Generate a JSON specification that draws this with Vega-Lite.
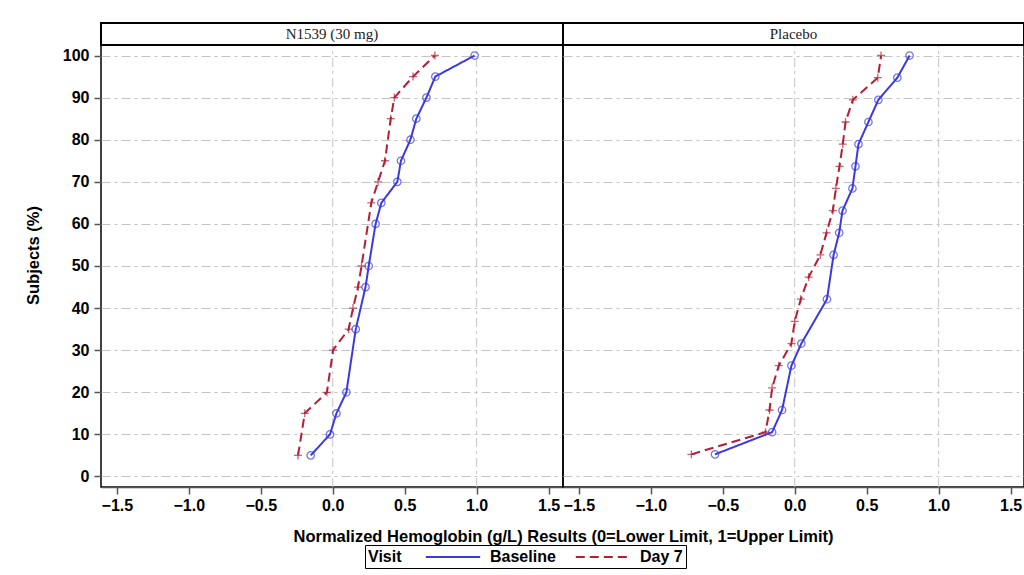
{
  "$schema": "https://vega.github.io/schema/vega-lite/v6.json",
  "padding": {"left": 24, "top": 21, "right": 0, "bottom": 0},
  "autosize": {"type": "pad"},
  "background": "white",
  "datasets": {
    "main": [
      {"panel": "N1539", "visit": "Baseline", "pct": 5, "x": -0.153},
      {"panel": "N1539", "visit": "Baseline", "pct": 10, "x": -0.019},
      {"panel": "N1539", "visit": "Baseline", "pct": 15, "x": 0.026},
      {"panel": "N1539", "visit": "Baseline", "pct": 20, "x": 0.095},
      {"panel": "N1539", "visit": "Baseline", "pct": 35, "x": 0.160},
      {"panel": "N1539", "visit": "Baseline", "pct": 45, "x": 0.228},
      {"panel": "N1539", "visit": "Baseline", "pct": 50, "x": 0.250},
      {"panel": "N1539", "visit": "Baseline", "pct": 60, "x": 0.298},
      {"panel": "N1539", "visit": "Baseline", "pct": 65, "x": 0.338},
      {"panel": "N1539", "visit": "Baseline", "pct": 70, "x": 0.449},
      {"panel": "N1539", "visit": "Baseline", "pct": 75, "x": 0.474},
      {"panel": "N1539", "visit": "Baseline", "pct": 80, "x": 0.540},
      {"panel": "N1539", "visit": "Baseline", "pct": 85, "x": 0.581},
      {"panel": "N1539", "visit": "Baseline", "pct": 90, "x": 0.651},
      {"panel": "N1539", "visit": "Baseline", "pct": 95, "x": 0.713},
      {"panel": "N1539", "visit": "Baseline", "pct": 100, "x": 0.986},
      {"panel": "N1539", "visit": "Day 7", "pct": 5, "x": -0.241},
      {"panel": "N1539", "visit": "Day 7", "pct": 15, "x": -0.194},
      {"panel": "N1539", "visit": "Day 7", "pct": 20, "x": -0.040},
      {"panel": "N1539", "visit": "Day 7", "pct": 30, "x": 0.002},
      {"panel": "N1539", "visit": "Day 7", "pct": 35, "x": 0.111},
      {"panel": "N1539", "visit": "Day 7", "pct": 40, "x": 0.141},
      {"panel": "N1539", "visit": "Day 7", "pct": 45, "x": 0.176},
      {"panel": "N1539", "visit": "Day 7", "pct": 50, "x": 0.200},
      {"panel": "N1539", "visit": "Day 7", "pct": 65, "x": 0.268},
      {"panel": "N1539", "visit": "Day 7", "pct": 70, "x": 0.315},
      {"panel": "N1539", "visit": "Day 7", "pct": 75, "x": 0.363},
      {"panel": "N1539", "visit": "Day 7", "pct": 85, "x": 0.403},
      {"panel": "N1539", "visit": "Day 7", "pct": 90, "x": 0.428},
      {"panel": "N1539", "visit": "Day 7", "pct": 95, "x": 0.558},
      {"panel": "N1539", "visit": "Day 7", "pct": 100, "x": 0.710},
      {"panel": "Placebo", "visit": "Baseline", "pct": 5.26, "x": -0.554},
      {"panel": "Placebo", "visit": "Baseline", "pct": 10.53, "x": -0.157},
      {"panel": "Placebo", "visit": "Baseline", "pct": 15.79, "x": -0.088},
      {"panel": "Placebo", "visit": "Baseline", "pct": 26.32, "x": -0.023},
      {"panel": "Placebo", "visit": "Baseline", "pct": 31.58, "x": 0.046},
      {"panel": "Placebo", "visit": "Baseline", "pct": 42.11, "x": 0.224},
      {"panel": "Placebo", "visit": "Baseline", "pct": 52.63, "x": 0.270},
      {"panel": "Placebo", "visit": "Baseline", "pct": 57.89, "x": 0.309},
      {"panel": "Placebo", "visit": "Baseline", "pct": 63.16, "x": 0.332},
      {"panel": "Placebo", "visit": "Baseline", "pct": 68.42, "x": 0.401},
      {"panel": "Placebo", "visit": "Baseline", "pct": 73.68, "x": 0.422},
      {"panel": "Placebo", "visit": "Baseline", "pct": 78.95, "x": 0.443},
      {"panel": "Placebo", "visit": "Baseline", "pct": 84.21, "x": 0.512},
      {"panel": "Placebo", "visit": "Baseline", "pct": 89.47, "x": 0.581},
      {"panel": "Placebo", "visit": "Baseline", "pct": 94.74, "x": 0.713},
      {"panel": "Placebo", "visit": "Baseline", "pct": 100, "x": 0.798},
      {"panel": "Placebo", "visit": "Day 7", "pct": 5.26, "x": -0.718},
      {"panel": "Placebo", "visit": "Day 7", "pct": 10.53, "x": -0.203},
      {"panel": "Placebo", "visit": "Day 7", "pct": 15.79, "x": -0.175},
      {"panel": "Placebo", "visit": "Day 7", "pct": 21.05, "x": -0.157},
      {"panel": "Placebo", "visit": "Day 7", "pct": 26.32, "x": -0.111},
      {"panel": "Placebo", "visit": "Day 7", "pct": 31.58, "x": -0.023},
      {"panel": "Placebo", "visit": "Day 7", "pct": 36.84, "x": 0.0},
      {"panel": "Placebo", "visit": "Day 7", "pct": 42.11, "x": 0.042},
      {"panel": "Placebo", "visit": "Day 7", "pct": 47.37, "x": 0.097},
      {"panel": "Placebo", "visit": "Day 7", "pct": 52.63, "x": 0.178},
      {"panel": "Placebo", "visit": "Day 7", "pct": 57.89, "x": 0.221},
      {"panel": "Placebo", "visit": "Day 7", "pct": 63.16, "x": 0.265},
      {"panel": "Placebo", "visit": "Day 7", "pct": 68.42, "x": 0.286},
      {"panel": "Placebo", "visit": "Day 7", "pct": 73.68, "x": 0.311},
      {"panel": "Placebo", "visit": "Day 7", "pct": 78.95, "x": 0.334},
      {"panel": "Placebo", "visit": "Day 7", "pct": 84.21, "x": 0.353},
      {"panel": "Placebo", "visit": "Day 7", "pct": 89.47, "x": 0.404},
      {"panel": "Placebo", "visit": "Day 7", "pct": 94.74, "x": 0.577},
      {"panel": "Placebo", "visit": "Day 7", "pct": 100, "x": 0.600}
    ],
    "refs": [{"x": 0}, {"x": 1}],
    "h1": [{"label": "N1539 (30 mg)"}],
    "h2": [{"label": "Placebo"}]
  },
  "spacing": 0,
  "bounds": "flush",
  "resolve": {"scale": {"color": "independent", "strokeDash": "independent", "x": "independent", "y": "independent"}},
  "hconcat": [
    {
      "width": 462,
      "height": 464,
      "view": {"stroke": "#000", "strokeWidth": 1.5},
      "encoding": {
        "x": {
          "field": "x", "type": "quantitative",
          "scale": {"domain": [-1.61, 1.6], "nice": false, "zero": false},
          "axis": {"values": [-1.5, -1, -0.5, 0, 0.5, 1, 1.5], "format": ".1f", "grid": false,
                   "title": "Normalized Hemoglobin (g/L) Results (0=Lower Limit, 1=Upper Limit)",
                   "titleX": 462, "titleAlign": "center", "titlePadding": 15}
        }
      },
      "layer": [
        {
          "data": {"name": "refs"},
          "mark": {"type": "rule", "color": "#c4c4c4", "strokeDash": [9, 4, 3, 4], "strokeWidth": 1},
          "encoding": {
            "y": {"datum": -2.5, "type": "quantitative", "scale": {"domain": [-2.5, 107.726], "nice": false, "zero": false}},
            "y2": {"datum": 102.5}
          }
        },
        {
          "data": {"name": "h1"},
          "mark": {"type": "rect", "fill": null, "stroke": "#000", "strokeWidth": 2},
          "encoding": {
            "x": null,
            "y": {"datum": 102.5, "type": "quantitative"},
            "y2": {"datum": 107.726}
          }
        },
        {
          "data": {"name": "h1"},
          "mark": {"type": "text", "font": "Liberation Serif", "fontSize": 15, "color": "#222", "baseline": "middle", "align": "center"},
          "encoding": {
            "x": null,
            "y": {"datum": 105.11, "type": "quantitative"},
            "text": {"field": "label", "type": "nominal"}
          }
        },
        {
          "data": {"name": "main"},
          "transform": [{"filter": "datum.panel === 'N1539'"}],
          "mark": {"type": "line", "strokeWidth": 2},
          "encoding": {
            "y": {"field": "pct", "type": "quantitative",
                  "axis": {"values": [0, 10, 20, 30, 40, 50, 60, 70, 80, 90, 100], "grid": true, "domain": false, "title": "Subjects (%)", "titlePadding": 21, "labelPadding": 5}},
            "order": {"field": "pct", "type": "quantitative"},
            "color": {"field": "visit", "type": "nominal",
                      "scale": {"domain": ["Baseline", "Day 7"], "range": ["#3a3ae0", "#b51f35"]},
                      "legend": {"title": "Visit", "orient": "none", "legendX": 264, "legendY": 522, "direction": "horizontal", "titleOrient": "left", "symbolType": "M-3.4,0H3.4"}},
            "strokeDash": {"field": "visit", "type": "nominal",
                           "scale": {"domain": ["Baseline", "Day 7"], "range": [[1, 0], [9, 5]]},
                           "legend": {"title": "Visit", "orient": "none", "legendX": 264, "legendY": 522, "direction": "horizontal", "titleOrient": "left", "symbolType": "M-3.4,0H3.4"}}
          }
        },
        {
          "data": {"name": "main"},
          "transform": [{"filter": "datum.panel === 'N1539' && datum.visit === 'Baseline'"}],
          "mark": {"type": "point", "filled": false, "shape": "circle", "color": "#3a3ae0", "strokeWidth": 1.3, "size": 55},
          "encoding": {"y": {"field": "pct", "type": "quantitative"}}
        },
        {
          "data": {"name": "main"},
          "transform": [{"filter": "datum.panel === 'N1539' && datum.visit === 'Day 7'"}],
          "mark": {"type": "point", "filled": false, "shape": "M-1,0H1M0,-1V1", "color": "#b51f35", "strokeWidth": 1.3, "size": 64},
          "encoding": {"y": {"field": "pct", "type": "quantitative"}}
        }
      ]
    },
    {
      "width": 461,
      "height": 464,
      "view": {"stroke": "#000", "strokeWidth": 1.5},
      "encoding": {
        "x": {
          "field": "x", "type": "quantitative",
          "scale": {"domain": [-1.61, 1.593], "nice": false, "zero": false},
          "axis": {"values": [-1.5, -1, -0.5, 0, 0.5, 1, 1.5], "format": ".1f", "grid": false, "title": null}
        }
      },
      "layer": [
        {
          "data": {"name": "refs"},
          "mark": {"type": "rule", "color": "#c4c4c4", "strokeDash": [9, 4, 3, 4], "strokeWidth": 1},
          "encoding": {
            "y": {"datum": -2.5, "type": "quantitative", "scale": {"domain": [-2.5, 107.726], "nice": false, "zero": false}},
            "y2": {"datum": 102.5}
          }
        },
        {
          "data": {"name": "h2"},
          "mark": {"type": "rect", "fill": null, "stroke": "#000", "strokeWidth": 2},
          "encoding": {
            "x": null,
            "y": {"datum": 102.5, "type": "quantitative"},
            "y2": {"datum": 107.726}
          }
        },
        {
          "data": {"name": "h2"},
          "mark": {"type": "text", "font": "Liberation Serif", "fontSize": 15, "color": "#222", "baseline": "middle", "align": "center"},
          "encoding": {
            "x": null,
            "y": {"datum": 105.11, "type": "quantitative"},
            "text": {"field": "label", "type": "nominal"}
          }
        },
        {
          "data": {"name": "main"},
          "transform": [{"filter": "datum.panel === 'Placebo'"}],
          "mark": {"type": "line", "strokeWidth": 2},
          "encoding": {
            "y": {"field": "pct", "type": "quantitative",
                  "axis": {"values": [0, 10, 20, 30, 40, 50, 60, 70, 80, 90, 100], "grid": true, "title": null, "labels": false, "ticks": false, "domain": false}},
            "order": {"field": "pct", "type": "quantitative"},
            "color": {"field": "visit", "type": "nominal",
                      "scale": {"domain": ["Baseline", "Day 7"], "range": ["#3a3ae0", "#b51f35"]}, "legend": null},
            "strokeDash": {"field": "visit", "type": "nominal",
                           "scale": {"domain": ["Baseline", "Day 7"], "range": [[1, 0], [9, 5]]}, "legend": null}
          }
        },
        {
          "data": {"name": "main"},
          "transform": [{"filter": "datum.panel === 'Placebo' && datum.visit === 'Baseline'"}],
          "mark": {"type": "point", "filled": false, "shape": "circle", "color": "#3a3ae0", "strokeWidth": 1.3, "size": 55},
          "encoding": {"y": {"field": "pct", "type": "quantitative"}}
        },
        {
          "data": {"name": "main"},
          "transform": [{"filter": "datum.panel === 'Placebo' && datum.visit === 'Day 7'"}],
          "mark": {"type": "point", "filled": false, "shape": "M-1,0H1M0,-1V1", "color": "#b51f35", "strokeWidth": 1.3, "size": 64},
          "encoding": {"y": {"field": "pct", "type": "quantitative"}}
        }
      ]
    }
  ],
  "config": {
    "font": "Liberation Sans",
    "axis": {
      "labelFont": "Liberation Sans", "labelFontSize": 16, "labelFontWeight": "bold", "labelColor": "#000",
      "titleFont": "Liberation Sans", "titleFontSize": 16.5, "titleFontWeight": "bold", "titleColor": "#000",
      "tickColor": "#555", "tickSize": 7, "tickWidth": 1.5, "domainColor": "#555", "domainWidth": 1.5,
      "gridColor": "#c4c4c4", "gridDash": [9, 4, 3, 4], "gridWidth": 1, "labelPadding": 3
    },
    "legend": {
      "symbolSize": 256, "symbolStrokeWidth": 2, "symbolFillColor": "transparent",
      "labelFont": "Liberation Sans", "labelFontSize": 16, "labelFontWeight": "bold", "labelColor": "#000",
      "titleFont": "Liberation Sans", "titleFontSize": 16, "titleFontWeight": "bold", "titleColor": "#000",
      "titleBaseline": "middle", "titleAnchor": "middle",
      "strokeColor": "#000", "fillColor": "#fff", "padding": 3, "columnPadding": 15, "labelOffset": 28, "titlePadding": 42
    }
  }
}
